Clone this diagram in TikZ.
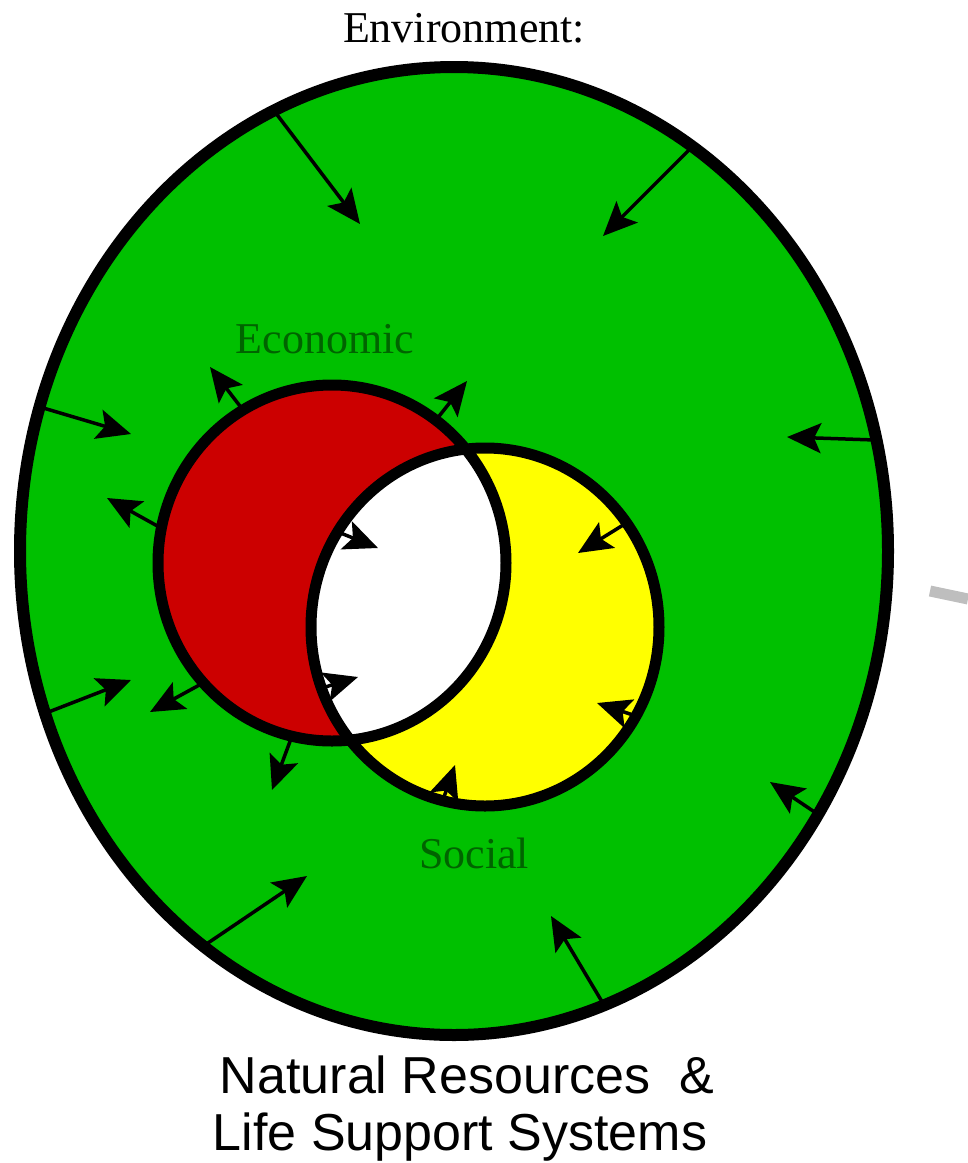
\documentclass[tikz,border=0pt]{standalone}
\usepackage{fontspec}
\setmainfont{Liberation Serif}
\newfontfamily\arialfont{Liberation Sans}
\usetikzlibrary{arrows.meta}
\definecolor{envgreen}{RGB}{0,192,0}
\definecolor{ecored}{RGB}{204,0,0}
\definecolor{socyellow}{RGB}{255,255,0}
\definecolor{labgreen}{RGB}{0,100,0}
\definecolor{markgray}{RGB}{190,190,190}
\tikzset{
  arr/.style={line width=3.5pt, arrows={-Stealth[length=34pt, width=30pt, inset=7pt]}},
  ring/.style={line width=11pt, draw=black},
  serifl/.style={font=\fontsize{44}{50}\selectfont, anchor=base, inner sep=0pt},
  sansl/.style={font=\arialfont\fontsize{52}{56}\selectfont, anchor=base, inner sep=0pt}
}
\begin{document}
\begin{tikzpicture}[x=1pt,y=-1pt]
\useasboundingbox (0,0) rectangle (968,1163);
% centres
\coordinate (envc) at (454,551);
\coordinate (ecoc) at (332,563);
\coordinate (socc) at (485,627);
% fills
\fill[envgreen] (envc) ellipse [x radius=434pt, y radius=484pt];
\fill[ecored] (ecoc) ellipse [x radius=174pt, y radius=178pt];
\fill[socyellow] (socc) ellipse [x radius=174pt, y radius=179pt];
\begin{scope}
  \clip (ecoc) ellipse [x radius=174pt, y radius=178pt];
  \fill[white] (socc) ellipse [x radius=174pt, y radius=179pt];
\end{scope}
% outlines
\draw[line width=12pt] (envc) ellipse [x radius=434pt, y radius=484pt];
\draw[ring] (ecoc) ellipse [x radius=174pt, y radius=178pt];
\draw[ring] (socc) ellipse [x radius=174pt, y radius=179pt];
% outer arrows (environment inward)
\coordinate (o1s) at (275,112); \coordinate (o1t) at (360,224);
\coordinate (o2s) at (692,147); \coordinate (o2t) at (603,236);
\coordinate (o3s) at (40,407);  \coordinate (o3t) at (131,434);
\coordinate (o4s) at (46,713);  \coordinate (o4t) at (131,680);
\coordinate (o5s) at (875,440); \coordinate (o5t) at (787,437);
\coordinate (o6s) at (819,815); \coordinate (o6t) at (770,782);
\coordinate (o7s) at (205,945); \coordinate (o7t) at (307,876);
\coordinate (o8s) at (604,1005); \coordinate (o8t) at (551,916);
\foreach \i in {1,...,8} { \draw[arr] (o\i s) -- (o\i t); }
% economic outward arrows
\coordinate (e1s) at (243,410); \coordinate (e1t) at (210,367);
\coordinate (e2s) at (436,420); \coordinate (e2t) at (467,381);
\coordinate (e3s) at (161,528); \coordinate (e3t) at (107,498);
\coordinate (e4s) at (203,683); \coordinate (e4t) at (150,712);
\coordinate (e5s) at (292,736); \coordinate (e5t) at (272,790);
\foreach \i in {1,...,5} { \draw[arr] (e\i s) -- (e\i t); }
% social inward arrows
\coordinate (s1s) at (338,532); \coordinate (s1t) at (378,548);
\coordinate (s2s) at (322,688); \coordinate (s2t) at (358,677);
\coordinate (s3s) at (628,522); \coordinate (s3t) at (578,553);
\coordinate (s4s) at (636,716); \coordinate (s4t) at (597,703);
\coordinate (s5s) at (443,800); \coordinate (s5t) at (455,765);
\foreach \i in {1,...,5} { \draw[arr] (s\i s) -- (s\i t); }
% labels
\node[serifl] (env) at (464,42) {Environment:};
\node[serifl, text=labgreen] (eco) at (325,353) {Economic};
\node[serifl, text=labgreen] (soc) at (474,868) {Social};
\node[sansl] (nat) at (467,1093) {Natural Resources \ \&};
\node[sansl] (life) at (460,1150) {Life Support Systems};
% grey mark at right edge
\draw[markgray, line width=11pt] (930,591) -- (968,599);
\end{tikzpicture}
\end{document}
